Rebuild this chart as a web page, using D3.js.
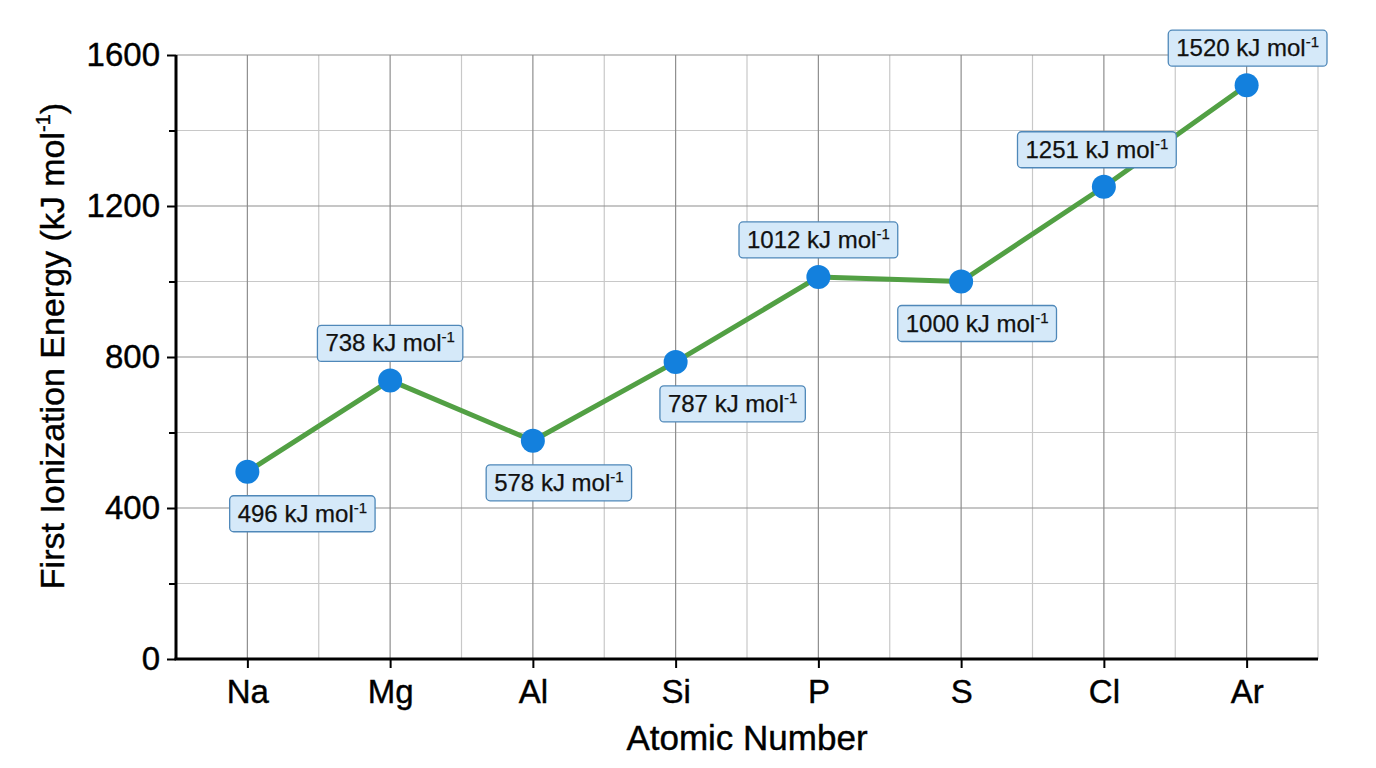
<!DOCTYPE html>
<html>
<head>
<meta charset="utf-8">
<script src="https://cdn.jsdelivr.net/npm/d3@7"></script>
<style>
  body { margin: 0; background: #fff; }
  text { font-family: "Liberation Sans", Arial, Helvetica, sans-serif; }
</style>
</head>
<body>
<svg id="chart"></svg>
<script>
// data
var elements = ["Na", "Mg", "Al", "Si", "P", "S", "Cl", "Ar"];
var energies = [496, 738, 578, 787, 1012, 1000, 1251, 1520];
var yTicks = [0, 400, 800, 1200, 1600];
var yMinorTicks = [200, 600, 1000, 1400];

// where each value label sits relative to its point
var labelSide = ["below", "above", "below", "below", "above", "below", "above", "above"];
var labelShift = [55, 0, 26, 57, 0, 16, -7, 1];

var width = 1376, height = 768;
var margin = { top: 55, right: 58, bottom: 109, left: 176 };

var svg = d3.select("#chart")
    .attr("width", width)
    .attr("height", height);

var x = d3.scalePoint()
    .domain(elements)
    .range([margin.left, width - margin.right])
    .padding(0.5);

var y = d3.scaleLinear()
    .domain([0, 1600])
    .range([height - margin.bottom, margin.top]);

var step = x.step();
var grid = svg.append("g").attr("class", "grid");

// minor vertical grid (between elements, plus right edge)
var minorX = elements.map(d => x(d) + step / 2);
grid.selectAll(".vminor")
    .data(minorX)
  .enter().append("line")
    .attr("x1", d => d).attr("x2", d => d)
    .attr("y1", y(1600)).attr("y2", y(0))
    .attr("stroke", "#c8c8c8").attr("stroke-width", 1.2);

grid.selectAll(".hminor")
    .data(yMinorTicks)
  .enter().append("line")
    .attr("x1", margin.left).attr("x2", width - margin.right)
    .attr("y1", d => y(d)).attr("y2", d => y(d))
    .attr("stroke", "#c8c8c8").attr("stroke-width", 1.2);

grid.selectAll(".vmajor")
    .data(elements)
  .enter().append("line")
    .attr("x1", d => x(d)).attr("x2", d => x(d))
    .attr("y1", y(1600)).attr("y2", y(0))
    .attr("stroke", "#8e8e8e").attr("stroke-width", 1.2);

grid.selectAll(".hmajor")
    .data(yTicks.slice(1))
  .enter().append("line")
    .attr("x1", margin.left).attr("x2", width - margin.right)
    .attr("y1", d => y(d)).attr("y2", d => y(d))
    .attr("stroke", "#8e8e8e").attr("stroke-width", 1.2);

// axes
var xAxis = svg.append("g")
    .attr("transform", "translate(0," + y(0) + ")")
    .call(d3.axisBottom(x).tickSizeOuter(0).tickSize(9).tickPadding(12));

var yAxis = svg.append("g")
    .attr("transform", "translate(" + margin.left + ",0)")
    .call(d3.axisLeft(y).tickValues(yTicks).tickFormat(d3.format("d"))
      .tickSizeOuter(0).tickSize(9).tickPadding(7));

svg.append("g")
    .attr("transform", "translate(" + margin.left + ",0)")
    .call(d3.axisLeft(y).tickValues(yMinorTicks).tickSizeOuter(0).tickSize(7).tickFormat(""))
    .select(".domain").remove();

svg.selectAll(".domain")
    .attr("stroke", "#000").attr("stroke-width", 3);
svg.selectAll(".tick line")
    .attr("stroke", "#000").attr("stroke-width", 2);
svg.selectAll(".tick text")
    .attr("fill", "#000")
    .attr("font-size", 33)
    .attr("stroke", "#000").attr("stroke-width", 0.4)
    .attr("font-family", "'Liberation Sans', Arial, sans-serif");

xAxis.select(".domain").attr("d", "M" + (margin.left - 1.5) + ",0H" + (width - margin.right));
yAxis.select(".domain").attr("d", "M0," + y(0) + "V" + y(1600));

// axis titles
svg.append("text")
    .attr("x", 747)
    .attr("y", 750)
    .attr("text-anchor", "middle")
    .attr("font-size", 35)
    .attr("stroke", "#000").attr("stroke-width", 0.4)
    .text("Atomic Number");

var yTitle = svg.append("text")
    .attr("transform", "translate(64," + 346 + ") rotate(-90)")
    .attr("text-anchor", "middle")
    .attr("font-size", 34)
    .attr("stroke", "#000").attr("stroke-width", 0.4);
yTitle.append("tspan").text("First Ionization Energy (kJ mol");
yTitle.append("tspan").attr("font-size", 20).attr("dy", -14).text("-1");
yTitle.append("tspan").attr("dy", 14).text(")");

// line + points
var points = elements.map((d, i) => ({ el: d, v: energies[i], side: labelSide[i], shift: labelShift[i] }));

svg.append("path")
    .datum(points)
    .attr("fill", "none")
    .attr("stroke", "#52a044")
    .attr("stroke-width", 5)
    .attr("stroke-linejoin", "round")
    .attr("d", d3.line().x(d => x(d.el)).y(d => y(d.v)));

svg.selectAll(".pt")
    .data(points)
  .enter().append("circle")
    .attr("cx", d => x(d.el))
    .attr("cy", d => y(d.v))
    .attr("r", 12)
    .attr("fill", "#1380dd");

// value labels
var labels = svg.selectAll(".lbl")
    .data(points)
  .enter().append("g")
    .attr("class", "lbl");

labels.each(function(d) {
  var g = d3.select(this);
  var rect = g.append("rect");
  var t = g.append("text")
      .attr("font-size", 24)
      .attr("fill", "#111")
      .attr("stroke", "#111").attr("stroke-width", 0.25);
  t.append("tspan").text(d.v + " kJ mol");
  t.append("tspan").attr("font-size", 15).attr("dy", -9).text("-1");

  var w = t.node().getComputedTextLength() + 16;
  var h = 36;
  var cx = x(d.el) + d.shift;
  var top = d.side === "above" ? y(d.v) - 19 - h : y(d.v) + 24;

  rect.attr("x", cx - w / 2).attr("y", top)
      .attr("width", w).attr("height", h)
      .attr("rx", 4)
      .attr("fill", "#d5e9f9")
      .attr("stroke", "#4f88b9")
      .attr("stroke-width", 1.3);
  t.attr("x", cx - w / 2 + 8).attr("y", top + 26);
});
</script>
</body>
</html>
